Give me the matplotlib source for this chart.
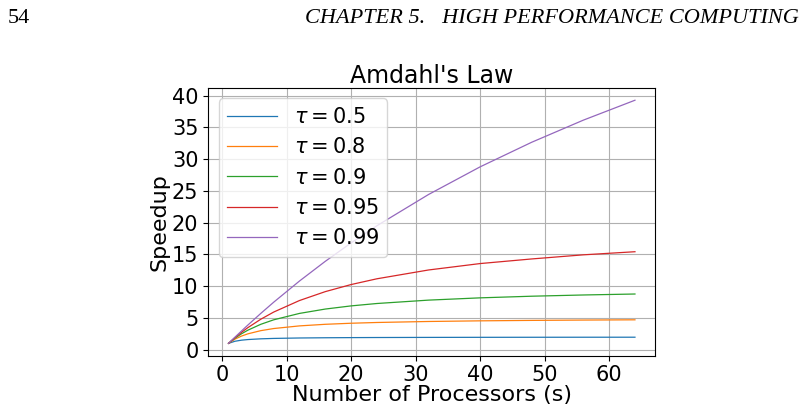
import matplotlib.pyplot as plt

# processor counts and speedups
procs = [1, 2, 3, 4, 6, 8, 12, 16, 20, 24, 32, 40, 48, 56, 64]
speed_050 = [1, 1.333, 1.5, 1.6, 1.714, 1.778, 1.846, 1.882, 1.905, 1.92, 1.939, 1.951, 1.959, 1.965, 1.969]
speed_080 = [1, 1.667, 2.143, 2.5, 3.0, 3.333, 3.75, 4.0, 4.167, 4.286, 4.444, 4.545, 4.615, 4.667, 4.706]
speed_090 = [1, 1.818, 2.5, 3.077, 4.0, 4.706, 5.714, 6.4, 6.897, 7.273, 7.805, 8.163, 8.421, 8.615, 8.767]
speed_095 = [1, 1.905, 2.727, 3.478, 4.8, 5.926, 7.742, 9.143, 10.256, 11.163, 12.549, 13.559, 14.286, 14.933, 15.422]
speed_099 = [1, 1.98, 2.941, 3.883, 5.714, 7.477, 10.811, 13.913, 16.807, 19.512, 24.427, 28.78, 32.653, 36.13, 39.264]
labels = ["0.5", "0.8", "0.9", "0.95", "0.99"]

fig = plt.figure(figsize=(8.07, 4.04), dpi=100)
fig.text(0.01, 0.955, "54", fontsize=16, family="Liberation Serif", va="center")
fig.text(0.99, 0.955, "CHAPTER 5.   HIGH PERFORMANCE COMPUTING", fontsize=16,
         family="Liberation Serif", style="italic", ha="right", va="center")

ax = fig.add_axes([0.258, 0.12, 0.554, 0.662])
for ys, lab in zip([speed_050, speed_080, speed_090, speed_095, speed_099], labels):
    ax.plot(procs, ys, lw=0.9, label=rf"$\tau = {lab}$")
ax.set_title("Amdahl's Law", fontsize=17, pad=3)
ax.set_xlabel("Number of Processors (s)", fontsize=16, labelpad=0)
ax.set_ylabel("Speedup", fontsize=16, labelpad=2)
ax.set_yticks(range(0, 41, 5))
ax.tick_params(labelsize=15)
ax.grid(True)
ax.legend(loc="upper left", fontsize=15, handlelength=2.4)

fig.savefig("out.png")
